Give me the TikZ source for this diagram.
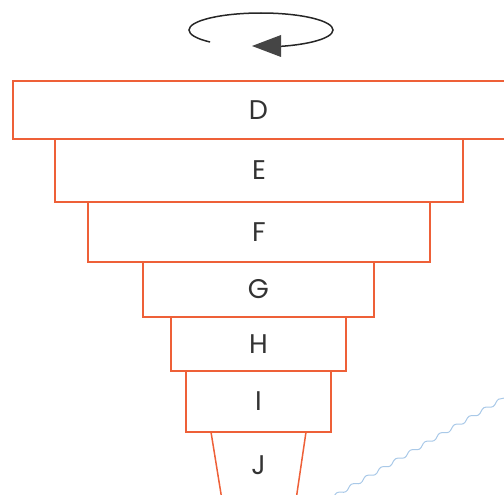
\documentclass[tikz,border=0pt]{standalone}
\usepackage{fontspec}
\setmainfont{Poppins}
\usetikzlibrary{decorations.pathmorphing}
\definecolor{boxline}{HTML}{EE6038}
\definecolor{wave}{HTML}{A9C9E8}
\definecolor{arrowgray}{HTML}{454545}
\begin{document}
\begin{tikzpicture}[x=1pt,y=-1pt,
  layer/.style={draw=boxline, line width=1.5pt, fill=white, inner sep=0pt,
    font=\fontsize{27}{30}\selectfont, text=black!80},
  ]
\useasboundingbox (0,0) rectangle (504,495);
\clip (0,0) rectangle (504,495);
% rotation arrow
\draw[line width=1.5pt, black!85] (261,30) ++(135:72 and 17) arc[start angle=135, end angle=438, x radius=72, y radius=17];
\fill[arrowgray] (252,46) -- (281,35) -- (281,57) -- cycle;
% layers
\node[layer, minimum width=500, minimum height=58] (D) at (263,110) {\kern-9pt D};
\node[layer, minimum width=408, minimum height=63] (E) at (259,170.5) {E};
\node[layer, minimum width=342, minimum height=60] (F) at (259,232) {F};
\node[layer, minimum width=231, minimum height=55] (G) at (258.5,289.5) {G};
\node[layer, minimum width=175, minimum height=54] (H) at (258.5,344) {H};
\node[layer, minimum width=145, minimum height=61] (I) at (258.5,401.5) {I};
\draw[draw=boxline, line width=1.5pt] (211,432) -- (222,500) (306,432) -- (296,500);
\node[font=\fontsize{27}{30}\selectfont, text=black!80] (J) at (258.5,465) {J};
% wavy line
\draw[wave, line width=1pt, decorate, decoration={snake, segment length=17pt, amplitude=1.8pt}] (333,497) -- (506,397);
\end{tikzpicture}
\end{document}
